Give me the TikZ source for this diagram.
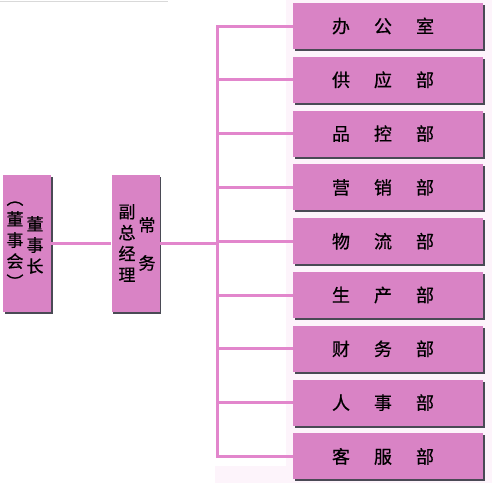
\documentclass[tikz,border=0pt]{standalone}
\usepackage{fontspec}
\newfontfamily\cjk[FakeBold=0.6]{Noto Sans CJK SC}
\usetikzlibrary{shadows}
\definecolor{boxpink}{HTML}{D983C5}
\definecolor{linepink}{HTML}{E286CC}
\definecolor{bgpink}{HTML}{FDF4FB}
\definecolor{shade}{HTML}{4A4A55}
\tikzset{
  dept/.style={fill=boxpink, minimum width=190pt, minimum height=46pt, inner sep=0pt,
    font=\cjk\fontsize{18}{18}\selectfont,
    drop shadow={shadow xshift=1.5pt, shadow yshift=-2pt, fill=shade, opacity=1}},
  lead/.style={fill=boxpink, minimum width=48pt, minimum height=137pt, inner sep=0pt,
    drop shadow={shadow xshift=1.5pt, shadow yshift=-2pt, fill=shade, opacity=1}},
  vcol/.style={font=\cjk\fontsize{17}{21}\selectfont, align=center, inner sep=0pt},
  conn/.style={draw=linepink, line width=3pt}
}
\begin{document}
\begin{tikzpicture}[x=1pt,y=-1pt]
\useasboundingbox (0,0) rectangle (500,483);
\fill[bgpink] (286,0) rectangle (492,483);
\fill[bgpink] (215,466) rectangle (492,483);
\draw[black!15, line width=1pt] (0,1) -- (168,1);
% leaders
\node[lead] (chair) at (27,243.5) {};
\node[lead] (mgr) at (135.5,243.5) {};
\node[vcol] (c1) at (35,245) {董\\事\\长};
\node[vcol] (c2) at (15,245) {︵\\董\\事\\会\\︶};
\node[vcol] (m1) at (147,244) {常\\[17pt]务};
\node[vcol] (m2) at (127,243) {副\\总\\经\\理};
% departments
\foreach \i/\t in {0/{办\hspace{24pt}公\hspace{24pt}室},1/{供\hspace{24pt}应\hspace{24pt}部},2/{品\hspace{24pt}控\hspace{24pt}部},3/{营\hspace{24pt}销\hspace{24pt}部},4/{物\hspace{24pt}流\hspace{24pt}部},5/{生\hspace{24pt}产\hspace{24pt}部},6/{财\hspace{24pt}务\hspace{24pt}部},7/{人\hspace{24pt}事\hspace{24pt}部},8/{客\hspace{24pt}服\hspace{24pt}部}}{
  \node[dept] (d\i) at (388,{26+53.8*\i}) {\hbox{\hspace{-10pt}\t}};
}
\coordinate (vtop) at (217,26);
\coordinate (vbot) at (217,{26+53.8*8});
\draw[conn, line cap=rect] (vtop) -- (vbot);
\foreach \i in {0,...,8}{
  \draw[conn] (d\i.west -| vtop) -- (d\i.west);
}
\draw[conn] (chair.east) -- (mgr.west);
\draw[conn] (mgr.east) -- (mgr.east -| vtop);
\end{tikzpicture}
\end{document}
